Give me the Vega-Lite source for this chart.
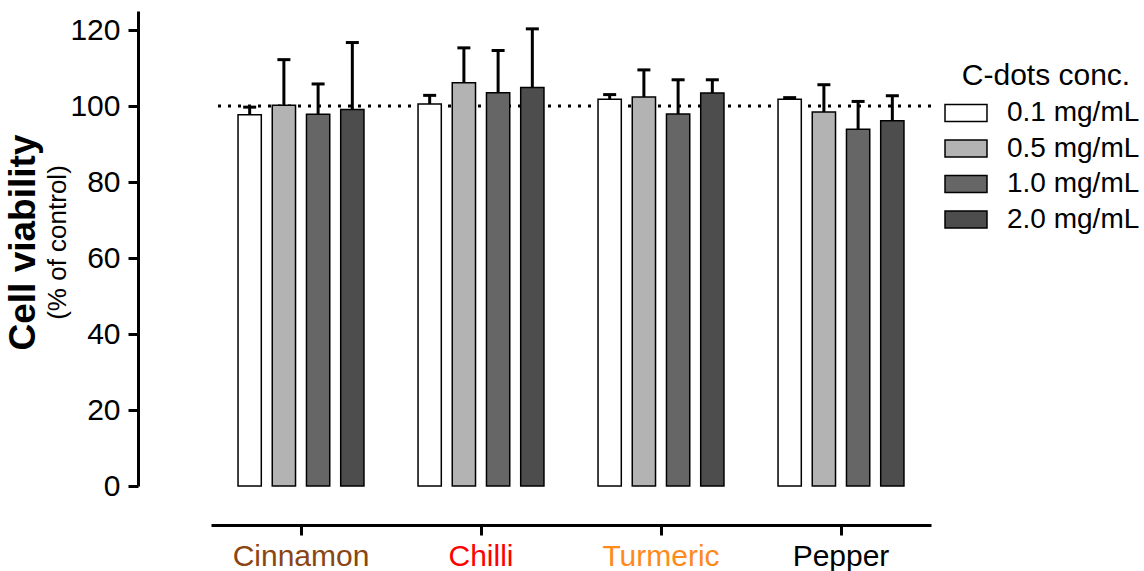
{
  "$schema": "https://vega.github.io/schema/vega-lite/v6.json",
  "width": 720,
  "height": 475,
  "padding": {"left": 4, "top": 11, "right": 4, "bottom": 0},
  "background": "white",
  "config": {"font": "Liberation Sans", "view": {"stroke": null}},
  "title": {
    "text": "Cell viability",
    "subtitle": "(% of control)",
    "orient": "left",
    "anchor": "middle",
    "font": "Liberation Sans",
    "fontSize": 37,
    "fontWeight": "bold",
    "color": "black",
    "subtitleFont": "Liberation Sans",
    "subtitleFontSize": 26,
    "subtitleFontWeight": "normal",
    "subtitleColor": "black",
    "subtitlePadding": 2,
    "offset": -2,
    "dx": 6
  },
  "data": {
    "values": [
      {"spice": "Cinnamon", "conc": "0.1 mg/mL", "value": 97.7, "upper": 99.7},
      {"spice": "Cinnamon", "conc": "0.5 mg/mL", "value": 100.2, "upper": 112.2},
      {"spice": "Cinnamon", "conc": "1.0 mg/mL", "value": 97.8, "upper": 105.8},
      {"spice": "Cinnamon", "conc": "2.0 mg/mL", "value": 99.1, "upper": 116.7},
      {"spice": "Chilli", "conc": "0.1 mg/mL", "value": 100.5, "upper": 102.8},
      {"spice": "Chilli", "conc": "0.5 mg/mL", "value": 106.1, "upper": 115.3},
      {"spice": "Chilli", "conc": "1.0 mg/mL", "value": 103.5, "upper": 114.6},
      {"spice": "Chilli", "conc": "2.0 mg/mL", "value": 104.9, "upper": 120.3},
      {"spice": "Turmeric", "conc": "0.1 mg/mL", "value": 101.8, "upper": 103.0},
      {"spice": "Turmeric", "conc": "0.5 mg/mL", "value": 102.4, "upper": 109.5},
      {"spice": "Turmeric", "conc": "1.0 mg/mL", "value": 97.9, "upper": 106.9},
      {"spice": "Turmeric", "conc": "2.0 mg/mL", "value": 103.4, "upper": 106.9},
      {"spice": "Pepper", "conc": "0.1 mg/mL", "value": 101.8, "upper": 102.2},
      {"spice": "Pepper", "conc": "0.5 mg/mL", "value": 98.4, "upper": 105.6},
      {"spice": "Pepper", "conc": "1.0 mg/mL", "value": 93.9, "upper": 101.2},
      {"spice": "Pepper", "conc": "2.0 mg/mL", "value": 96.1, "upper": 102.7}
    ]
  },
  "layer": [
    {
      "data": {"values": [{"ref": 100}]},
      "mark": {"type": "rule", "strokeDash": [3, 7], "strokeWidth": 3, "color": "black"},
      "encoding": {
        "y": {
          "field": "ref",
          "type": "quantitative",
          "title": null,
          "scale": {"domain": [0, 125], "nice": false},
          "axis": {
            "title": null,
            "offset": 73,
            "values": [0, 20, 40, 60, 80, 100, 120],
            "grid": false,
            "domainColor": "black",
            "domainWidth": 3,
            "tickColor": "black",
            "tickWidth": 3,
            "tickSize": 10,
            "labelFontSize": 30,
            "labelColor": "black",
            "labelPadding": 8,
            "labelFont": "Liberation Sans"
          }
        }
      }
    },
    {
      "mark": {"type": "rule", "strokeWidth": 3, "color": "black"},
      "encoding": {
        "x": {"field": "spice", "type": "nominal", "sort": ["Cinnamon", "Chilli", "Turmeric", "Pepper"], "axis": {"labelAngle": 0, "labelAlign": "center", "labelBaseline": "top"}},
        "xOffset": {"field": "conc", "type": "nominal", "sort": ["0.1 mg/mL", "0.5 mg/mL", "1.0 mg/mL", "2.0 mg/mL"]},
        "y": {"field": "value", "type": "quantitative", "title": null},
        "y2": {"field": "upper"}
      }
    },
    {
      "mark": {"type": "tick", "orient": "horizontal", "size": 13, "thickness": 3, "color": "black", "opacity": 1},
      "encoding": {
        "x": {"field": "spice", "type": "nominal", "sort": ["Cinnamon", "Chilli", "Turmeric", "Pepper"], "axis": {"labelAngle": 0, "labelAlign": "center", "labelBaseline": "top"}},
        "xOffset": {"field": "conc", "type": "nominal", "sort": ["0.1 mg/mL", "0.5 mg/mL", "1.0 mg/mL", "2.0 mg/mL"]},
        "y": {"field": "upper", "type": "quantitative", "title": null}
      }
    },
    {
      "mark": {"type": "bar", "stroke": "black", "strokeWidth": 1.5, "opacity": 1},
      "encoding": {
        "x": {
          "field": "spice",
          "type": "nominal",
          "sort": ["Cinnamon", "Chilli", "Turmeric", "Pepper"],
          "scale": {"paddingInner": 0, "paddingOuter": 0},
          "axis": {
            "title": null,
            "offset": 39,
            "labelAngle": 0,
            "labelAlign": "center",
            "labelBaseline": "top",
            "domainColor": "black",
            "domainWidth": 3,
            "tickColor": "black",
            "tickWidth": 3,
            "tickSize": 10,
            "labelFontSize": 30,
            "labelPadding": 6,
            "labelFont": "Liberation Sans",
            "labelColor": {
              "condition": [
                {"test": "datum.value === 'Cinnamon'", "value": "#8B4513"},
                {"test": "datum.value === 'Chilli'", "value": "#FF0000"},
                {"test": "datum.value === 'Turmeric'", "value": "#FF8A1C"}
              ],
              "value": "#000000"
            }
          }
        },
        "xOffset": {
          "field": "conc",
          "type": "nominal",
          "sort": ["0.1 mg/mL", "0.5 mg/mL", "1.0 mg/mL", "2.0 mg/mL"],
          "scale": {"paddingInner": 0.32, "paddingOuter": 0.79}
        },
        "y": {"field": "value", "type": "quantitative", "title": null},
        "fill": {
          "field": "conc",
          "type": "nominal",
          "sort": ["0.1 mg/mL", "0.5 mg/mL", "1.0 mg/mL", "2.0 mg/mL"],
          "scale": {"range": ["#FFFFFF", "#B3B3B3", "#666666", "#4D4D4D"]},
          "legend": {
            "title": "C-dots conc.",
            "orient": "none",
            "legendX": 741,
            "legendY": 50,
            "padding": 0,
            "titleFont": "Liberation Sans",
            "titleFontSize": 30,
            "titleFontWeight": "normal",
            "titleColor": "black",
            "titleAnchor": "middle",
            "titlePadding": 8,
            "labelFont": "Liberation Sans",
            "labelFontSize": 28,
            "labelColor": "black",
            "labelOffset": 27,
            "symbolType": "M-2.5,-1H2.5V1H-2.5Z",
            "symbolSize": 282,
            "symbolStrokeColor": "black",
            "symbolStrokeWidth": 1.5,
            "symbolOpacity": 1,
            "rowPadding": 7.5
          }
        }
      }
    }
  ]
}
